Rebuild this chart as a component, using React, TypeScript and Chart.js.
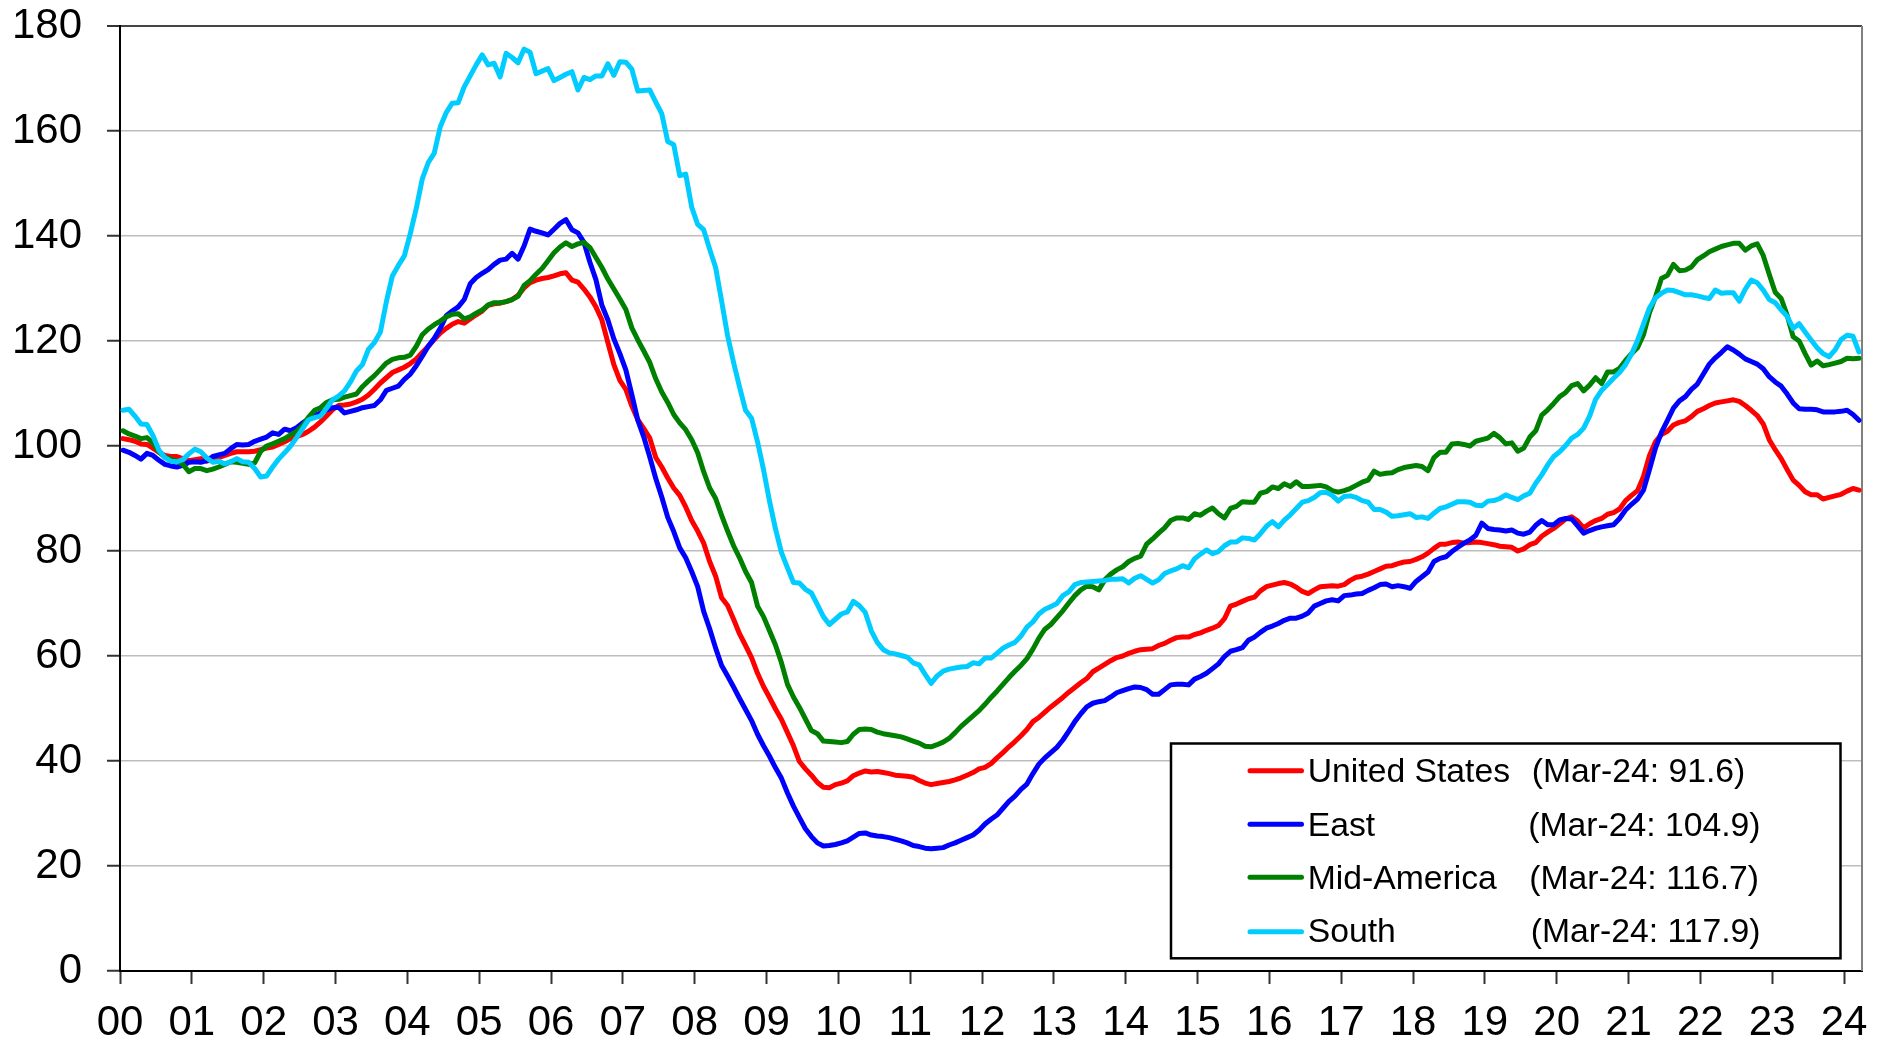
import { useEffect, useRef } from 'react';
import { Chart, registerables } from 'chart.js';

Chart.register(...registerables);

// ---- Data (monthly, Jan-2000 .. Mar-2024) ----
const YEAR_LABELS = ['00','01','02','03','04','05','06','07','08','09','10','11','12','13','14','15','16','17','18','19','20','21','22','23','24'];
const Y_TICKS = [0, 20, 40, 60, 80, 100, 120, 140, 160, 180];
const SERIES_NAMES = ['United States', 'East', 'Mid-America', 'South'];
const LATEST_NOTES = ['(Mar-24: 91.6)', '(Mar-24: 104.9)', '(Mar-24: 116.7)', '(Mar-24: 117.9)'];
const SERIES_COLORS = ['#FF0000', '#0000FF', '#008000', '#00CCFF'];

const US = [
  101.4,101.2,100.9,100.4,100.3,99.6,98.8,98.2,98.0,98.0,97.6,97.2,
  97.4,97.6,97.1,97.5,97.8,98.2,98.6,98.9,98.9,98.9,99.0,99.3,
  99.6,99.8,100.3,100.8,101.4,101.8,102.2,102.8,103.6,104.6,105.7,106.9,
  107.7,107.8,108.0,108.4,108.9,109.7,110.8,112.0,113.0,114.0,114.5,115.0,
  115.7,116.6,117.8,119.0,120.3,121.5,122.4,123.2,123.7,123.4,124.2,125.0,
  125.7,126.8,127.1,127.2,127.5,127.9,128.7,130.1,131.1,131.6,131.9,132.1,
  132.4,132.8,133.0,131.6,131.2,129.9,128.4,126.5,124.0,119.7,115.5,112.5,
  110.8,107.6,105.0,103.3,101.5,97.8,96.0,93.9,92.0,90.6,88.4,85.8,
  83.8,81.5,78.0,75.2,71.1,69.6,67.0,64.2,62.0,59.7,56.7,54.2,
  52.1,49.9,47.9,45.4,42.9,39.9,38.5,37.3,35.9,35.0,34.9,35.5,
  35.8,36.2,37.2,37.7,38.1,37.9,38.0,37.8,37.6,37.3,37.2,37.1,
  36.9,36.3,35.8,35.5,35.7,35.9,36.1,36.4,36.8,37.3,37.8,38.5,
  38.8,39.5,40.6,41.6,42.7,43.7,44.8,46.0,47.5,48.3,49.3,50.3,
  51.2,52.1,53.1,54.0,54.9,55.7,57.0,57.7,58.4,59.1,59.7,60.0,
  60.5,60.9,61.2,61.3,61.4,62.0,62.4,63.0,63.5,63.6,63.6,64.1,
  64.4,64.9,65.3,65.8,67.1,69.5,69.9,70.4,70.9,71.2,72.4,73.2,
  73.5,73.8,74.0,73.7,73.1,72.3,71.9,72.6,73.2,73.3,73.4,73.3,
  73.6,74.4,75.0,75.2,75.6,76.1,76.6,77.1,77.2,77.6,77.9,78.0,
  78.4,78.9,79.6,80.5,81.3,81.3,81.6,81.7,81.5,81.6,81.7,81.6,
  81.4,81.2,80.9,80.8,80.7,80.0,80.4,81.2,81.6,82.8,83.6,84.3,
  85.2,86.1,86.5,85.7,84.4,85.2,85.8,86.2,87.0,87.3,88.0,89.6,
  90.6,91.5,94.2,98.2,100.8,102.2,102.8,104.0,104.5,104.8,105.6,106.6,
  107.1,107.7,108.2,108.4,108.6,108.8,108.5,107.7,106.8,105.8,104.2,101.2,
  99.3,97.6,95.5,93.5,92.5,91.3,90.7,90.7,89.9,90.2,90.5,90.8,
  91.4,91.9,91.6
];

const EAST = [
  99.2,98.8,98.2,97.5,98.6,98.2,97.3,96.5,96.2,96.0,96.3,96.9,
  97.0,96.9,97.2,98.0,98.3,98.6,99.5,100.3,100.2,100.3,100.9,101.3,
  101.7,102.5,102.2,103.2,102.9,103.5,104.4,105.1,105.8,106.3,106.9,107.3,
  107.4,106.3,106.6,106.9,107.3,107.5,107.7,108.8,110.6,111.0,111.4,112.7,
  113.7,115.3,117.1,119.0,120.5,122.4,124.8,125.7,126.5,127.9,130.9,132.1,
  132.9,133.6,134.6,135.4,135.6,136.7,135.6,138.1,141.3,140.9,140.6,140.2,
  141.3,142.4,143.1,141.2,140.6,138.8,135.0,131.7,126.8,124.0,120.4,117.6,
  114.5,109.8,104.9,101.7,97.9,93.8,90.3,86.4,83.7,80.6,78.7,76.1,
  73.2,68.5,65.2,61.5,58.2,56.2,54.1,51.9,49.8,47.7,45.1,42.9,
  40.9,38.7,36.7,33.9,31.4,29.2,27.1,25.6,24.4,23.8,23.9,24.1,
  24.4,24.8,25.5,26.2,26.3,25.9,25.7,25.6,25.4,25.1,24.8,24.4,
  23.9,23.7,23.4,23.3,23.4,23.5,24.0,24.4,24.9,25.4,25.9,26.8,
  28.0,28.9,29.7,31.0,32.3,33.3,34.6,35.6,37.6,39.4,40.6,41.6,
  42.6,44.0,45.7,47.5,49.0,50.3,51.0,51.3,51.5,52.2,53.0,53.4,
  53.8,54.1,54.0,53.6,52.7,52.7,53.6,54.5,54.6,54.6,54.5,55.6,
  56.1,56.7,57.6,58.5,59.9,60.9,61.2,61.6,63.0,63.6,64.5,65.3,
  65.7,66.2,66.8,67.2,67.2,67.6,68.2,69.5,70.0,70.5,70.7,70.5,
  71.5,71.6,71.8,71.9,72.5,73.0,73.6,73.7,73.2,73.4,73.2,72.9,
  74.2,75.1,76.0,78.0,78.6,78.9,79.9,80.7,81.5,82.1,83.0,85.3,
  84.3,84.1,84.0,83.8,84.0,83.4,83.2,83.6,84.9,85.8,85.0,85.0,
  85.9,86.2,86.1,84.8,83.4,83.9,84.3,84.6,84.8,85.0,86.2,87.8,
  88.9,89.9,91.6,95.5,99.6,102.6,104.9,107.2,108.6,109.4,110.8,111.8,
  113.7,115.6,116.8,117.8,118.9,118.3,117.5,116.6,116.1,115.6,114.7,113.2,
  112.2,111.4,109.9,108.2,107.1,107.0,107.0,106.9,106.5,106.5,106.5,106.6,
  106.8,106.0,104.9
];

const MID_AMERICA = [
  102.9,102.3,101.9,101.4,101.6,100.6,98.9,97.9,97.5,97.1,96.5,95.1,
  95.7,95.7,95.3,95.6,96.0,96.5,97.0,96.9,96.7,96.5,96.8,99.0,
  100.0,100.4,100.9,101.4,102.1,102.8,103.9,105.5,106.8,107.3,108.3,108.8,
  108.9,109.3,109.6,109.9,111.3,112.4,113.4,114.6,115.8,116.5,116.8,116.9,
  117.3,119.0,121.2,122.3,123.1,123.8,124.6,125.1,125.2,124.2,124.6,125.3,
  125.9,126.9,127.3,127.3,127.5,127.9,128.5,130.6,131.5,132.7,133.8,135.3,
  136.8,137.9,138.7,138.0,138.5,138.8,137.8,135.9,134.0,131.8,129.9,128.0,
  126.0,122.5,120.2,118.1,115.9,112.8,110.3,108.3,106.0,104.4,103.1,101.2,
  98.7,95.1,92.0,90.0,86.8,83.8,81.0,78.7,76.1,74.0,69.5,67.5,
  64.8,62.1,58.7,54.6,52.2,50.2,48.0,45.8,45.2,43.8,43.7,43.6,
  43.5,43.7,45.1,46.0,46.1,46.0,45.5,45.2,45.0,44.8,44.6,44.2,
  43.8,43.4,42.8,42.7,43.1,43.6,44.3,45.4,46.6,47.6,48.6,49.6,
  50.8,52.1,53.3,54.6,55.9,57.1,58.2,59.5,61.3,63.4,65.1,66.0,
  67.3,68.6,70.1,71.5,72.6,73.3,73.2,72.6,74.5,75.6,76.4,77.0,
  78.0,78.6,79.0,81.3,82.3,83.4,84.4,85.8,86.3,86.3,86.0,87.1,
  86.8,87.6,88.2,87.1,86.3,88.1,88.5,89.4,89.3,89.3,91.0,91.3,
  92.2,91.9,92.8,92.3,93.2,92.3,92.3,92.4,92.5,92.2,91.5,91.2,
  91.5,91.9,92.5,93.1,93.5,95.2,94.6,94.8,94.9,95.5,95.9,96.1,
  96.3,96.1,95.3,97.8,98.8,98.8,100.4,100.5,100.3,100.0,100.9,101.2,
  101.5,102.4,101.6,100.4,100.6,99.0,99.6,101.7,102.9,105.9,106.9,108.1,
  109.4,110.2,111.5,111.9,110.5,111.6,113.0,111.9,114.1,114.1,114.8,116.3,
  117.6,118.7,121.2,125.4,128.4,131.9,132.5,134.6,133.4,133.5,134.1,135.5,
  136.2,137.0,137.5,138.0,138.3,138.6,138.6,137.3,138.1,138.5,136.3,132.7,
  129.3,128.1,124.9,120.8,120.0,117.6,115.4,116.2,115.3,115.5,115.8,116.1,
  116.7,116.6,116.7
];

const SOUTH = [
  106.8,107.0,105.7,104.2,104.1,102.0,99.2,97.8,97.1,97.0,97.4,98.5,
  99.4,98.9,97.7,96.9,97.1,96.6,97.0,97.6,97.0,96.9,95.7,94.1,
  94.3,96.0,97.5,98.7,100.0,101.6,103.3,105.0,105.4,105.7,107.2,108.8,
  109.5,110.5,112.2,114.3,115.5,118.4,119.7,121.7,127.5,132.4,134.4,136.2,
  140.5,145.3,150.9,154.0,155.8,160.8,163.5,165.3,165.4,168.4,170.5,172.6,
  174.5,172.6,172.9,170.3,174.8,174.0,173.0,175.6,175.0,170.9,171.4,171.9,
  169.6,170.2,170.8,171.3,167.8,170.2,169.8,170.5,170.5,172.8,170.6,173.2,
  173.1,171.8,167.6,167.7,167.8,165.5,163.3,158.0,157.4,151.5,151.8,145.5,
  142.2,141.2,137.5,134.0,127.6,121.0,115.9,111.2,106.8,105.3,100.8,95.5,
  89.5,84.2,79.7,76.8,74.0,73.9,72.7,72.0,69.8,67.5,66.0,67.0,
  68.0,68.4,70.4,69.6,68.3,64.8,62.6,61.2,60.6,60.4,60.1,59.8,
  58.7,58.3,56.5,54.8,56.2,57.1,57.5,57.7,57.9,58.0,58.7,58.5,
  59.6,59.6,60.5,61.5,62.1,62.6,63.8,65.5,66.5,68.0,68.9,69.4,
  70.0,71.5,72.2,73.6,74.0,74.1,74.2,74.3,74.4,74.6,74.6,74.7,
  73.9,74.8,75.3,74.6,73.9,74.5,75.7,76.2,76.6,77.2,76.8,78.5,
  79.4,80.2,79.5,79.9,81.0,81.7,81.7,82.5,82.4,82.1,83.3,84.7,
  85.6,84.6,85.9,86.9,88.1,89.3,89.6,90.2,91.1,91.2,90.6,89.5,
  90.4,90.5,90.2,89.6,89.3,87.9,87.9,87.4,86.6,86.7,86.9,87.1,
  86.4,86.5,86.2,87.2,88.1,88.4,88.9,89.4,89.4,89.3,88.7,88.6,
  89.5,89.6,90.0,90.7,90.2,89.8,90.5,91.0,92.9,94.5,96.4,98.0,
  98.9,100.1,101.5,102.2,103.4,105.7,108.9,110.6,111.7,112.9,114.0,115.5,
  117.5,120.1,123.2,126.3,128.2,129.1,129.7,129.6,129.2,128.8,128.8,128.6,
  128.3,128.1,129.7,129.1,129.2,129.2,127.6,129.9,131.6,131.1,129.7,127.9,
  127.3,125.9,124.7,122.4,123.3,121.7,120.2,118.7,117.6,117.0,118.3,120.3,
  121.1,120.9,117.9
];

const ALL_SERIES = [US, EAST, MID_AMERICA, SOUTH];
const MONTHS_ON_AXIS = 291;

const FONT_FAMILY = '"Liberation Sans", Arial, sans-serif';

const legendPlugin = {
  id: 'boxLegend',
  afterDraw(chart: any) {
    const ctx = chart.ctx as CanvasRenderingContext2D;
    const boxL = 1171, boxT = 743.5, boxR = 1840.5, boxB = 958.3;
    ctx.save();
    ctx.fillStyle = '#ffffff';
    ctx.fillRect(boxL, boxT, boxR - boxL, boxB - boxT);
    ctx.strokeStyle = '#000000';
    ctx.lineWidth = 2.5;
    ctx.strokeRect(boxL, boxT, boxR - boxL, boxB - boxT);
    const baselines = [781.7, 836, 888.5, 942.3];
    const lineY = [770.7, 824.3, 877.3, 931.7];
    const noteX = [1531.7, 1528.3, 1529.3, 1530.7];
    ctx.font = `32.5px ${FONT_FAMILY}`;
    ctx.textBaseline = 'alphabetic';
    ctx.textAlign = 'left';
    SERIES_NAMES.forEach((name, i) => {
      const b = baselines[i];
      ctx.strokeStyle = SERIES_COLORS[i];
      ctx.lineWidth = 5;
      ctx.lineCap = 'round';
      ctx.beginPath();
      ctx.moveTo(1250, lineY[i]);
      ctx.lineTo(1301.5, lineY[i]);
      ctx.stroke();
      ctx.fillStyle = '#000000';
      ctx.save();
      ctx.translate(1307.7, b);
      ctx.scale(1.037, 1);
      ctx.fillText(name, 0, 0);
      ctx.restore();
      ctx.save();
      ctx.translate(noteX[i], b);
      ctx.scale(1.037, 1);
      ctx.fillText(LATEST_NOTES[i], 0, 0);
      ctx.restore();
    });
    ctx.restore();
  },
};

const frameRightPlugin = {
  id: 'frameRight',
  beforeDatasetsDraw(chart: any) {
    const { ctx, chartArea } = chart;
    ctx.save();
    ctx.strokeStyle = '#808080';
    ctx.lineWidth = 2;
    ctx.beginPath();
    ctx.moveTo(chartArea.right, chartArea.top);
    ctx.lineTo(chartArea.right, chartArea.bottom);
    ctx.stroke();
    ctx.restore();
  },
};

export default function App() {
  const canvasRef = useRef<HTMLCanvasElement | null>(null);

  useEffect(() => {
    document.body.style.margin = '0';
    const canvas = canvasRef.current;
    if (!canvas) return;

    const datasets = ALL_SERIES.map((series, si) => ({
      label: SERIES_NAMES[si],
      data: series.map((v, i) => ({ x: i + 0.5, y: v })),
      borderColor: SERIES_COLORS[si],
      backgroundColor: SERIES_COLORS[si],
      borderWidth: 5,
      pointRadius: 0,
      pointHoverRadius: 0,
      tension: 0,
      fill: false,
      borderJoinStyle: 'round' as const,
      borderCapStyle: 'round' as const,
      order: ALL_SERIES.length - 1 - si,
    }));

    const chart = new Chart(canvas, {
      type: 'line',
      data: { datasets },
      plugins: [frameRightPlugin, legendPlugin],
      options: {
        animation: false,
        responsive: false,
        devicePixelRatio: 1,
        events: [],
        layout: { padding: { top: 26, right: 30, left: 0, bottom: 0 } },
        plugins: { legend: { display: false }, tooltip: { enabled: false } },
        scales: {
          x: {
            type: 'linear',
            min: 0,
            max: MONTHS_ON_AXIS,
            afterBuildTicks: (scale: any) => {
              scale.ticks = YEAR_LABELS.map((_, i) => ({ value: i * 12 }));
            },
            afterFit: (scale: any) => {
              scale.height = 69;
              scale.paddingLeft = 0;
              scale.paddingRight = 0;
            },
            ticks: {
              autoSkip: false,
              maxRotation: 0,
              minRotation: 0,
              padding: 14,
              color: '#000000',
              font: { family: FONT_FAMILY, size: 42 },
              callback: (value: any) => YEAR_LABELS[Math.round(Number(value) / 12)] ?? '',
            },
            grid: {
              drawOnChartArea: false,
              drawTicks: true,
              tickLength: 13,
              tickColor: '#333333',
              tickWidth: 2,
            },
            border: { display: true, color: '#000000', width: 2 },
          },
          y: {
            type: 'linear',
            min: 0,
            max: 180,
            afterBuildTicks: (scale: any) => {
              scale.ticks = Y_TICKS.map((v) => ({ value: v }));
            },
            afterFit: (scale: any) => {
              scale.width = 120;
              scale.paddingTop = 0;
              scale.paddingBottom = 0;
            },
            ticks: {
              padding: 25,
              color: '#000000',
              font: { family: FONT_FAMILY, size: 42 },
            },
            grid: {
              color: (c: any) => (c.tick && c.tick.value === 180 ? '#444444' : '#bdbdbd'),
              lineWidth: (c: any) => (c.tick && c.tick.value === 180 ? 2 : 1.5),
              drawTicks: true,
              tickLength: 13,
              tickColor: '#333333',
              tickWidth: 2,
            },
            border: { display: true, color: '#000000', width: 2 },
          },
        },
      },
    });

    return () => chart.destroy();
  }, []);

  return (
    <div style={{ width: 1892, height: 1040, background: '#ffffff' }}>
      <canvas ref={canvasRef} width={1892} height={1040} style={{ display: 'block' }} />
    </div>
  );
}
